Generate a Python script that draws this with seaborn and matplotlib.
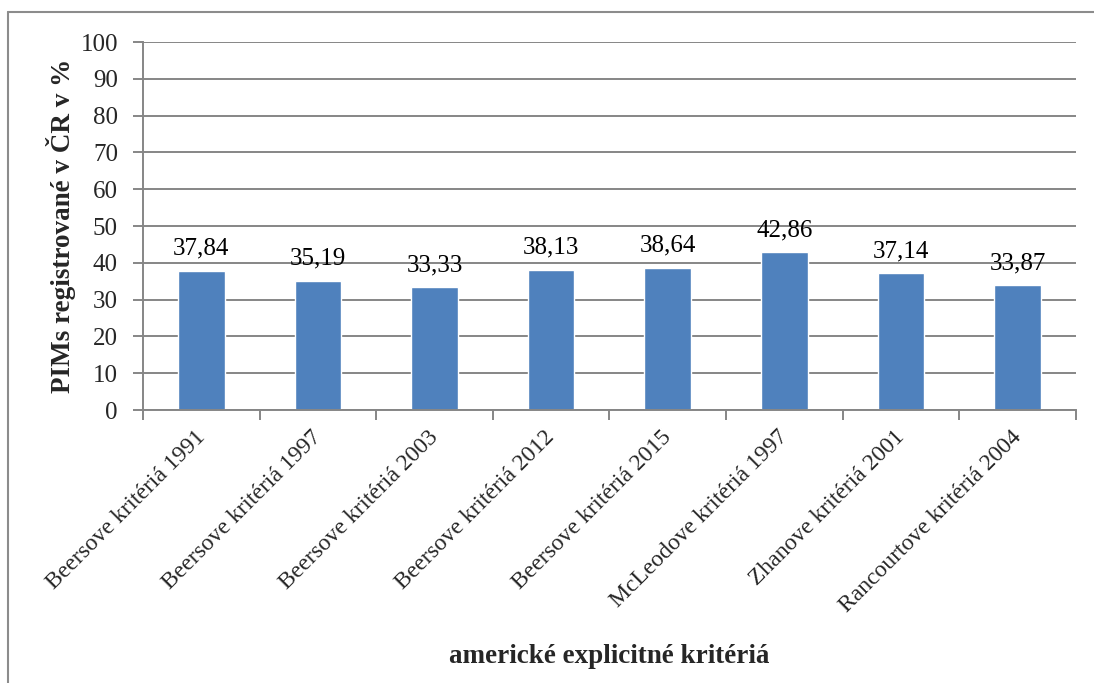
import matplotlib
matplotlib.use("Agg")
import matplotlib.pyplot as plt
import matplotlib.transforms as mtransforms
import seaborn as sns
import pandas as pd
import numpy as np
from matplotlib.lines import Line2D

categories = [
    "Beersove kritériá 1991",
    "Beersove kritériá 1997",
    "Beersove kritériá 2003",
    "Beersove kritériá 2012",
    "Beersove kritériá 2015",
    "McLeodove kritériá 1997",
    "Zhanove kritériá 2001",
    "Rancourtove kritériá 2004",
]
values = [37.84, 35.19, 33.33, 38.13, 38.64, 42.86, 37.14, 33.87]
y_ticks = [0, 10, 20, 30, 40, 50, 60, 70, 80, 90, 100]

df = pd.DataFrame({"kriterium": categories, "hodnota": values})

sns.set_theme(style="white")
plt.rcParams["font.family"] = ["Liberation Serif", "DejaVu Serif"]

fig = plt.figure(figsize=(10.94, 6.83), dpi=100)
ax = fig.add_axes([0.1307, 0.3997, 0.8528, 0.5388])

sns.barplot(data=df, x="kriterium", y="hodnota", color="#4F81BD",
            saturation=1, width=0.4, ax=ax)

ax.set_xlim(-0.5, len(categories) - 0.5)
ax.set_ylim(0, 100)
ax.set_yticks(y_ticks)
ax.yaxis.grid(True, color="#868686", linewidth=1.4)
ax.set_axisbelow(True)

for s in ["top", "right"]:
    ax.spines[s].set_visible(False)
for s in ["left", "bottom"]:
    ax.spines[s].set_color("#868686")
    ax.spines[s].set_linewidth(1.4)

ax.tick_params(axis="y", which="major", length=7, width=1.4, color="#868686",
               labelsize=18, pad=11, left=True)
ax.tick_params(axis="x", which="major", length=0, labelsize=17, pad=12)
ax.set_xticks(np.arange(-0.5, len(categories), 1.0), minor=True)
ax.tick_params(axis="x", which="minor", length=7, width=1.4, color="#868686",
               bottom=True)

ax.set_xticks(range(len(categories)))
ax.set_xticklabels(categories, rotation=45, ha="right", rotation_mode="anchor")
shift = mtransforms.ScaledTranslation(-5 / 72, 0, fig.dpi_scale_trans)
for lbl in ax.get_xticklabels():
    lbl.set_fontsize(17)
    lbl.set_transform(lbl.get_transform() + shift)

for i, v in enumerate(values):
    ax.annotate(f"{v:.2f}".replace(".", ","), (i, v), xytext=(0, 8),
                textcoords="offset points", ha="center", va="bottom",
                fontsize=18, color="black")

ax.set_xlabel("americké explicitné kritériá", fontsize=19.5, fontweight="bold",
              labelpad=20)
ax.set_ylabel("PIMs registrované v ČR v %", fontsize=19.5, fontweight="bold",
              labelpad=3)

# outer chart frame (top and left edges)
fig.add_artist(Line2D([8 / 1094, 8 / 1094], [0, 1 - 12 / 683],
                      transform=fig.transFigure, color="#8c8c8c", linewidth=1.5))
fig.add_artist(Line2D([8 / 1094, 1], [1 - 12 / 683, 1 - 12 / 683],
                      transform=fig.transFigure, color="#8c8c8c", linewidth=1.5))

fig.savefig("out.png", dpi=100)
